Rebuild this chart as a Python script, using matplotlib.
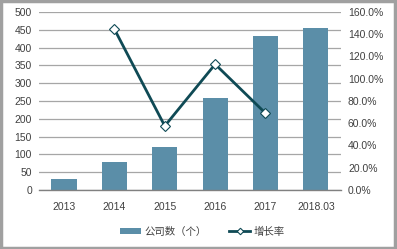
import matplotlib.pyplot as plt
from matplotlib.patches import Rectangle
from matplotlib.ticker import FuncFormatter

plt.rcParams['font.family'] = ['Liberation Sans', 'Noto Sans CJK SC', 'DejaVu Sans']

years = ['2013', '2014', '2015', '2016', '2017', '2018.03']
companies = [31, 78, 121, 258, 433, 456]
growth_years = ['2014', '2015', '2016', '2017']
growth = [144.5, 57.5, 113.0, 69.0]

bar_color = '#5b8ea8'
line_color = '#0f4a55'
grid_color = '#a6a6a6'
text_color = '#404040'

fig = plt.figure(figsize=(3.97, 2.49), dpi=100)
ax = fig.add_axes([0.098, 0.237, 0.761, 0.715])
ax2 = ax.twinx()

x = list(range(len(years)))
ax.bar(x, companies, width=0.5, color=bar_color, zorder=2, label='公司数（个）')
gx = [years.index(y) for y in growth_years]
ax2.plot(gx, growth, color=line_color, lw=2, marker='D', ms=5.5,
         mfc='white', mec=line_color, mew=0.8, zorder=3, label='增长率')

ax.set_xlim(-0.5, len(years) - 0.5)
ax.set_ylim(0, 500)
ax.set_yticks(range(0, 501, 50))
ax2.set_ylim(0, 160)
ax2.set_yticks(range(0, 161, 20))
ax2.yaxis.set_major_formatter(FuncFormatter(lambda v, p: f'{v:.1f}%'))

ax.set_xticks(x)
ax.set_xticklabels(years)
ax.yaxis.grid(True, color=grid_color, lw=0.9, zorder=0)
ax.set_axisbelow(True)

for a in (ax, ax2):
    for s in a.spines.values():
        s.set_visible(False)
    a.tick_params(length=0, labelsize=7.5, colors=text_color, pad=5)
ax.spines['bottom'].set_visible(True)
ax.spines['bottom'].set_color('#808080')
ax.spines['bottom'].set_linewidth(1)
ax.tick_params(axis='x', pad=9)

h1, l1 = ax.get_legend_handles_labels()
h2, l2 = ax2.get_legend_handles_labels()
fig.legend(h1 + h2, l1 + l2, loc='center', bbox_to_anchor=(0.51, 0.07), ncol=2,
           frameon=False, fontsize=7.5, handlelength=2.0, handleheight=0.5,
           handletextpad=0.3, columnspacing=2.2, markerscale=0.6,
           labelcolor=text_color)

fig.patches.append(Rectangle((0.003, 0.006), 0.992, 0.99, transform=fig.transFigure,
                             fill=False, edgecolor='#a0a0a0', lw=2.5))

fig.savefig('out.png', dpi=100)
